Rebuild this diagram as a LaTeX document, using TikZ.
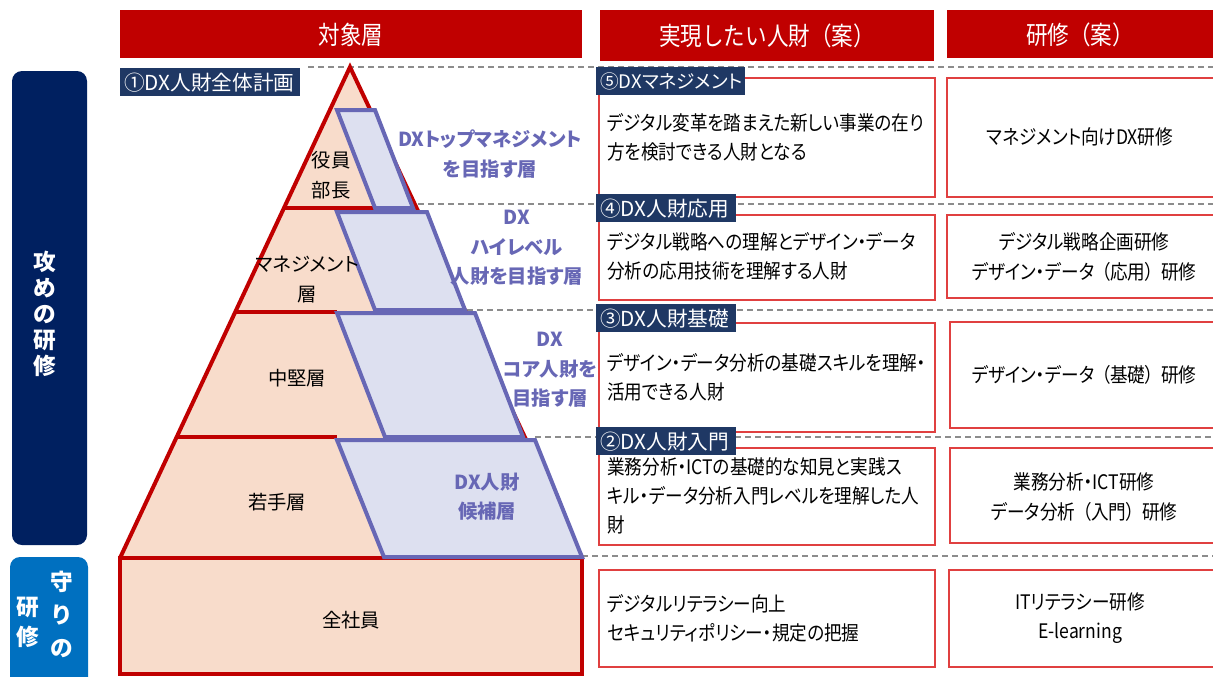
\documentclass[tikz,border=0pt]{standalone}
\usepackage{fontspec}
\setmainfont{Noto Sans CJK JP}[RawFeature={+palt}]
\newfontfamily\cond{Noto Sans CJK JP}[RawFeature={+palt},FakeStretch=0.88]
\newfontfamily\condfull{Noto Sans CJK JP}[FakeStretch=0.85]
\newcommand\LB{\hspace{0.35em}（}
\newcommand\RB{）\hspace{0.35em}}
\definecolor{hdrred}{HTML}{C00000}
\definecolor{navyA}{HTML}{002060}
\definecolor{blueB}{HTML}{0070C0}
\definecolor{tagnavy}{HTML}{1F3864}
\definecolor{peach}{HTML}{F8DCCB}
\definecolor{pred}{HTML}{C00000}
\definecolor{lav}{HTML}{DDE0F0}
\definecolor{lavline}{HTML}{6767B5}
\definecolor{boxred}{HTML}{E04040}
\definecolor{dgray}{HTML}{8C8C8C}
\begin{document}
\begin{tikzpicture}[x=0.75pt,y=-0.75pt,
  hdr/.style={fill=hdrred,draw=none},
  hdrtext/.style={text=white,inner sep=0,font=\condfull\fontsize{19}{22}\selectfont},
  tag/.style={fill=tagnavy,text=white,anchor=north west,inner xsep=3pt,inner ysep=0pt,
     minimum height=21pt,text width=#1,align=left,font=\fontsize{15.5}{17}\selectfont},
  pline/.style={draw=pred,line width=3pt},
  para/.style={fill=lav,draw=lavline,line width=3pt,line join=miter},
  guide/.style={draw=dgray,line width=1.5pt,dash pattern=on 4.5pt off 3pt},
  rbox/.style={draw=boxred,line width=1pt,fill=white},
  mtext/.style={anchor=west,align=left,inner sep=0,font=\cond\fontsize{15}{21.75}\selectfont},
  rtext/.style={align=center,inner sep=0,font=\cond\fontsize{15}{22}\selectfont},
  blab/.style={align=center,inner sep=0,text=lavline,font=\bfseries\fontsize{14.5}{22}\selectfont},
  plab/.style={align=center,inner sep=0,font=\fontsize{14.5}{22.5}\selectfont},
  side/.style={align=center,inner sep=0,text=white,font=\bfseries\fontsize{17}{20}\selectfont}
]
\useasboundingbox (0,0) rectangle (1213,676);

% headers
\path[hdr] (120,10) rectangle (582,58);
\path[hdr] (600,10) rectangle (934,61);
\path[hdr] (947,10) rectangle (1216,58);
\node[hdrtext] (h1) at (351,35) {対象層};
\node[hdrtext] (h2) at (767,36) {実現したい人財（案）};
\node[hdrtext] (h3) at (1080,35) {研修（案）};

% side boxes
\path[fill=navyA,rounded corners=7.5pt] (12,71) rectangle (87,545);
\node[side,font=\bfseries\fontsize{17}{19.5}\selectfont] (sA) at (45,314) {攻\\め\\の\\研\\修};
\path[fill=blueB,rounded corners=7.5pt] (10,557) rectangle (88,690);
\node[side,font=\bfseries\fontsize{17}{24.75}\selectfont] (sB1) at (62,614) {守\\り\\の};
\node[side,font=\bfseries\fontsize{17}{22.5}\selectfont] (sB2) at (28,622) {研\\修};

% dashed guide lines
\draw[guide] (308,67) -- (1213,67);
\draw[guide] (418,204) -- (1213,204);
\draw[guide] (467,310) -- (1213,310);
\draw[guide] (535,437) -- (1213,437);
\draw[guide] (582,556) -- (1213,556);

% pyramid
\fill[peach] (350,67) -- (582,558) -- (120,558) -- cycle;
\draw[pline,line join=miter] (120,558) -- (350,67) -- (582,558);
\draw[pline] (284,208) -- (375,208);
\draw[pline] (235,312) -- (337,312);
\draw[pline] (177,437) -- (337,437);
\draw[pline,fill=peach] (120,558) rectangle (582,674);

% blue parallelograms
\draw[para] (337,110) -- (375,110) -- (413,208) -- (375,208) -- cycle;
\draw[para] (337,212) -- (427,212) -- (465,310) -- (375,310) -- cycle;
\draw[para] (337,313) -- (475,313) -- (523,437) -- (385,437) -- cycle;
\draw[para] (337,440) -- (535,440) -- (582,557) -- (384,557) -- cycle;

% pyramid labels
\node[plab] (p5) at (331,175) {役員\\部長};
\node[plab] (p4) at (307,280) {マネジメント\\層};
\node[plab] (p3) at (297,378) {中堅層};
\node[plab] (p2) at (277,502) {若手層};
\node[plab] (p1) at (351,620) {全社員};

\node[blab] (b5) at (490,154) {DXトップマネジメント\\を目指す層};
\node[blab] (b4) at (517,248) {DX\\ハイレベル\\人財を目指す層};
\node[blab] (b3) at (550,370) {DX\\コア人財を\\目指す層};
\node[blab] (b2) at (487,497) {DX人財\\候補層};

% middle boxes
\draw[rbox] (599,78) rectangle (935,197);
\draw[rbox] (599,215) rectangle (935,300);
\draw[rbox] (599,323) rectangle (935,432);
\draw[rbox] (599,448) rectangle (935,545);
\draw[rbox] (599,570) rectangle (935,667);
% right boxes
\draw[rbox] (947,78) rectangle (1216,197);
\draw[rbox] (947,215) rectangle (1216,298);
\draw[rbox] (950,322) rectangle (1216,428);
\draw[rbox] (950,448) rectangle (1216,543);
\draw[rbox] (949,570) rectangle (1216,667);

\node[mtext] (m5) at (607,137) {デジタル変革を踏まえた新しい事業の在り\\方を検討できる人財となる};
\node[mtext] (m4) at (607,256) {デジタル戦略への理解とデザイン・データ\\分析の応用技術を理解する人財};
\node[mtext] (m3) at (607,377) {デザイン・データ分析の基礎スキルを理解・\\活用できる人財};
\node[mtext] (m2) at (607,496) {業務分析・ICTの基礎的な知見と実践ス\\キル・データ分析入門レベルを理解した人\\財};
\node[mtext] (m1) at (607,618) {デジタルリテラシー向上\\セキュリティポリシー・規定の把握};

\node[rtext] (r5) at (1080,137) {マネジメント向けDX研修};
\node[rtext] (r4) at (1084,257) {デジタル戦略企画研修\\デザイン・データ\LB 応用\RB 研修};
\node[rtext] (r3) at (1084,375) {デザイン・データ\LB 基礎\RB 研修};
\node[rtext] (r2) at (1084,497) {業務分析・ICT研修\\データ分析\LB 入門\RB 研修};
\node[rtext] (r1) at (1080,618) {ITリテラシー研修\\E-learning};

% tags
\node[tag=129pt] (t1) at (120,68) {①DX人財全体計画};
\node[tag=105.75pt,font=\fontsize{14}{17}\selectfont] (t5) at (596,67) {⑤DXマネジメント};
\node[tag=99pt] (t4) at (596,194) {④DX人財応用};
\node[tag=99pt] (t3) at (596,304) {③DX人財基礎};
\node[tag=99pt] (t2) at (596,427) {②DX人財入門};
\end{tikzpicture}
\end{document}
